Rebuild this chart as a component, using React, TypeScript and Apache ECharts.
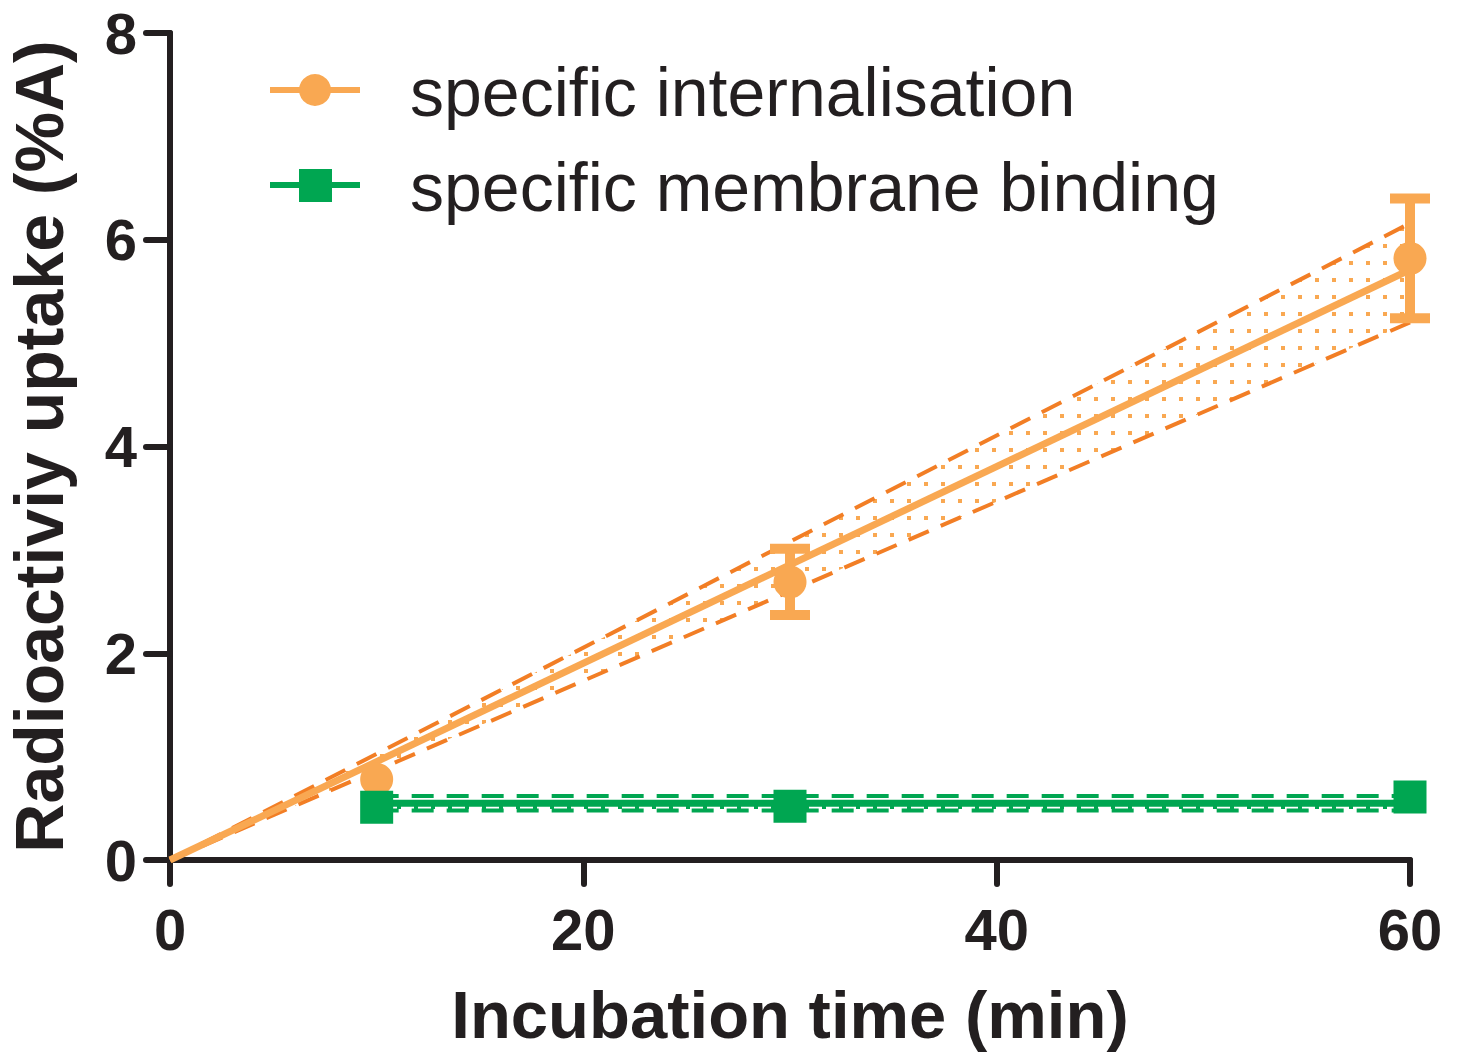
import React, { useEffect, useRef } from "react";
import * as echarts from "echarts";

// ---- data ----
const timeMin = [10, 30, 60];
const internalisationMean = [0.78, 2.69, 5.82];
const internalisationErr = [0, 0.32, 0.58];
const membraneMean = [0.51, 0.52, 0.61];

const intFitX = [0, 60];
const intFitY = [0, 5.71];
const intCiUpper = [0, 6.16];
const intCiLower = [0, 5.2];

const memFitX = [10, 60];
const memFitY = [0.55, 0.55];
const memCiUpper = [0.62, 0.62];
const memCiLower = [0.48, 0.48];

const xTicks = [0, 20, 40, 60];
const yTicks = [0, 2, 4, 6, 8];
const legendNames = ["specific internalisation", "specific membrane binding"];

const ORANGE = "#F9A852";
const ORANGE_DASH = "#F27E25";
const GREEN = "#00A651";
const INK = "#231F20";
const FONT = "Liberation Sans, Arial, sans-serif";

function makeDotPattern(color: string) {
  const c = document.createElement("canvas");
  c.width = 17;
  c.height = 17;
  const ctx = c.getContext("2d")!;
  ctx.fillStyle = color;
  ctx.fillRect(6, 6, 4, 4);
  return { image: c, repeat: "repeat", imageWidth: 17, imageHeight: 17 } as any;
}

function pairs(xs: number[], ys: number[]) {
  return xs.map((x, i) => [x, ys[i]]);
}

export default function App() {
  const ref = useRef<HTMLDivElement>(null);
  useEffect(() => {
    if (!ref.current) return;
    const chart = echarts.init(ref.current, undefined, { renderer: "svg" });
    const orangePattern = makeDotPattern(ORANGE);
    const greenPattern = makeDotPattern(GREEN);

    const bandSeries = (xs: number[], up: number[], lo: number[], fill: any) => ({
      type: "custom",
      silent: true,
      z: 1,
      data: [[xs[0], lo[0]]],
      renderItem: (_p: any, api: any) => {
        const pts: number[][] = [];
        xs.forEach((x, i) => pts.push(api.coord([x, up[i]])));
        for (let i = xs.length - 1; i >= 0; i--) pts.push(api.coord([xs[i], lo[i]]));
        return { type: "polygon", shape: { points: pts }, style: { fill, stroke: null } };
      },
    });

    const dashLine = (data: number[][], color: string) => ({
      type: "line",
      data,
      showSymbol: false,
      silent: true,
      z: 3,
      lineStyle: { color, width: 4, type: [22, 13] },
    });

    chart.setOption({
      animation: false,
      grid: { left: 170, right: 50, top: 33, bottom: 193, outerBoundsMode: "none", containLabel: false },
      xAxis: {
        type: "value",
        min: 0,
        max: 60,
        interval: 20,
        name: "Incubation time (min)",
        nameLocation: "middle",
        nameGap: 121,
        nameTextStyle: { fontSize: 67, fontWeight: "bold", color: INK, fontFamily: FONT },
        axisLine: { lineStyle: { color: INK, width: 6, cap: "round" } },
        axisTick: { length: 24, lineStyle: { color: INK, width: 6, cap: "round" } },
        axisLabel: {
          fontSize: 58,
          fontWeight: "bold",
          color: INK,
          fontFamily: FONT,
          margin: 40,
          formatter: (v: number) => (xTicks.includes(v) ? String(v) : ""),
        },
        splitLine: { show: false },
      },
      yAxis: {
        type: "value",
        min: 0,
        max: 8,
        interval: 2,
        name: "Radioactiviy uptake (%A)",
        nameLocation: "middle",
        nameGap: 97,
        nameTextStyle: { fontSize: 68, fontWeight: "bold", color: INK, fontFamily: FONT },
        axisLine: { lineStyle: { color: INK, width: 6, cap: "round" } },
        axisTick: { length: 24, lineStyle: { color: INK, width: 6, cap: "round" } },
        axisLabel: {
          fontSize: 58,
          fontWeight: "bold",
          color: INK,
          fontFamily: FONT,
          margin: 33,
          formatter: (v: number) => (yTicks.includes(v) ? String(v) : ""),
        },
        splitLine: { show: false },
      },
      series: [
        bandSeries(intFitX, intCiUpper, intCiLower, orangePattern),
        dashLine(pairs(intFitX, intCiUpper), ORANGE_DASH),
        dashLine(pairs(intFitX, intCiLower), ORANGE_DASH),
        {
          type: "line",
          data: pairs(intFitX, intFitY),
          showSymbol: false,
          silent: true,
          z: 4,
          lineStyle: { color: ORANGE, width: 7 },
        },
        {
          type: "custom",
          z: 5,
          silent: true,
          data: timeMin.map((x, i) => [x, internalisationMean[i], internalisationErr[i]]),
          renderItem: (_p: any, api: any) => {
            const x = api.value(0);
            const m = api.value(1);
            const e = api.value(2);
            if (!e) return null;
            const top = api.coord([x, m + e]);
            const bot = api.coord([x, m - e]);
            const hw = 20;
            const st = { stroke: ORANGE, lineWidth: 10, lineCap: "butt" };
            return {
              type: "group",
              children: [
                { type: "line", shape: { x1: top[0], y1: top[1], x2: bot[0], y2: bot[1] }, style: st },
                { type: "line", shape: { x1: top[0] - hw, y1: top[1], x2: top[0] + hw, y2: top[1] }, style: st },
                { type: "line", shape: { x1: bot[0] - hw, y1: bot[1], x2: bot[0] + hw, y2: bot[1] }, style: st },
              ],
            };
          },
        },
        {
          type: "scatter",
          z: 6,
          silent: true,
          symbol: "circle",
          symbolSize: 33,
          itemStyle: { color: ORANGE, opacity: 1 },
          data: pairs(timeMin, internalisationMean),
        },
        bandSeries(memFitX, memCiUpper, memCiLower, greenPattern),
        dashLine(pairs(memFitX, memCiUpper), GREEN),
        dashLine(pairs(memFitX, memCiLower), GREEN),
        {
          type: "line",
          data: pairs(memFitX, memFitY),
          showSymbol: false,
          silent: true,
          z: 7,
          lineStyle: { color: GREEN, width: 7 },
        },
        {
          type: "scatter",
          z: 8,
          silent: true,
          symbol: "rect",
          symbolSize: 33,
          itemStyle: { color: GREEN, opacity: 1 },
          data: pairs(timeMin, membraneMean),
        },
      ],
      graphic: [
        { type: "line", shape: { x1: 270, y1: 90, x2: 360, y2: 90 }, style: { stroke: ORANGE, lineWidth: 6 } },
        { type: "circle", shape: { cx: 315, cy: 90, r: 16 }, style: { fill: ORANGE } },
        {
          type: "text",
          x: 410,
          y: 92,
          style: { text: legendNames[0], fontSize: 68, fontFamily: FONT, fill: INK, verticalAlign: "middle" },
        },
        { type: "line", shape: { x1: 270, y1: 185, x2: 360, y2: 185 }, style: { stroke: GREEN, lineWidth: 6 } },
        { type: "rect", shape: { x: 299, y: 169, width: 33, height: 33 }, style: { fill: GREEN } },
        {
          type: "text",
          x: 410,
          y: 187,
          style: { text: legendNames[1], fontSize: 68, fontFamily: FONT, fill: INK, verticalAlign: "middle" },
        },
      ],
    });
    return () => chart.dispose();
  }, []);
  return (
    <div
      ref={ref}
      style={{ position: "absolute", left: 0, top: 0, width: 1460, height: 1053, background: "#fff" }}
    />
  );
}
